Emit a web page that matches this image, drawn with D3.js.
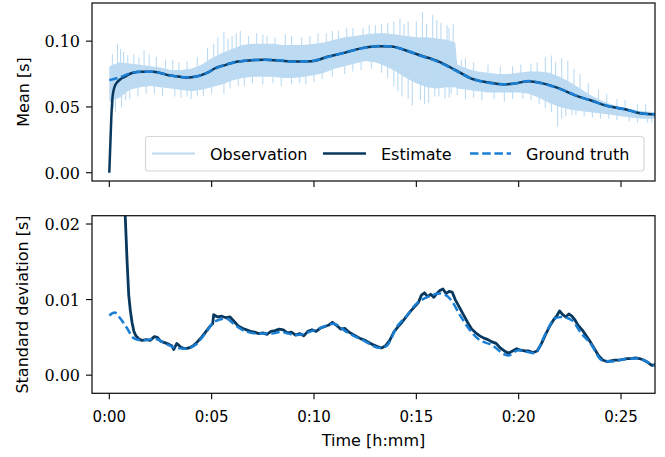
<!DOCTYPE html>
<html>
<head>
<meta charset="utf-8">
<script src="https://cdn.jsdelivr.net/npm/d3@7"></script>
<style>
  body { margin: 0; background: #fff; }
</style>
</head>
<body>
<script>
//==============================================================================
// data (time in minutes, values in seconds)

var xTicks = [0, 5, 10, 15, 20, 25];
var meanTicks = [0.00, 0.05, 0.10];
var stdTicks = [0.00, 0.01, 0.02];

var gtMean = [[0,0.0704],[0.5,0.0725],[1.11,0.0760],[1.6,0.0767],[2.09,0.0768],[2.5,0.0757],[2.9,0.0742],
  [3.3,0.0732],[3.71,0.0725],[4.1,0.0727],[4.37,0.0735],[4.8,0.0762],[5.18,0.0793],[5.7,0.0822],[6.16,0.0840],
  [6.96,0.0856],[7.6,0.0858],[8.26,0.0855],[9.08,0.0843],[9.89,0.0849],[10.7,0.0881],[11.52,0.0915],
  [12.34,0.0945],[13.15,0.0963],[13.78,0.0958],[14.6,0.0925],[15.25,0.0887],[16.07,0.0843],[16.88,0.0780],
  [17.69,0.0717],[18.51,0.0684],[19.33,0.0672],[19.83,0.0678],[20.48,0.0697],[21.13,0.0679],[21.95,0.0641],
  [22.76,0.0590],[23.58,0.0545],[24.39,0.0507],[25.2,0.0482],[26.02,0.0451],[26.67,0.0443]];

var estMean = [[0,0],[0.1,0.0426],[0.16,0.0578],[0.29,0.0666],[0.54,0.0710],[0.78,0.0730],[1.11,0.0758],
  [1.6,0.0768],[2.09,0.0767],[2.5,0.0758],[2.9,0.0741],[3.3,0.0733],[3.71,0.0724],[4.1,0.0728],[4.37,0.0736],
  [4.8,0.0760],[5.18,0.0795],[5.7,0.0820],[6.16,0.0842],[6.96,0.0855],[7.6,0.0859],[8.26,0.0853],[9.08,0.0845],
  [9.89,0.0848],[10.7,0.0883],[11.52,0.0913],[12.34,0.0947],[13.15,0.0962],[13.78,0.0960],[14.6,0.0923],
  [15.25,0.0889],[16.07,0.0846],[16.88,0.0783],[17.69,0.0715],[18.51,0.0686],[19.33,0.0671],[19.83,0.0679],
  [20.48,0.0696],[21.13,0.0681],[21.95,0.0643],[22.76,0.0588],[23.58,0.0547],[24.39,0.0505],[25.2,0.0483],
  [26.02,0.0450],[26.67,0.0444]];

// dense core of the noisy observation
var obsTime  = [0,0.5,1,1.5,2,2.5,3,3.5,4,4.5,5,5.5,6,6.5,7,7.5,8,8.5,9,9.5,10,10.5,11,11.5,12,12.5,13,13.5,
  14,14.5,15,15.5,16,16.5,16.9,17,17.5,18,18.5,19,19.5,20,20.5,21,21.5,22,22.5,23,23.5,24,24.5,25,25.5,26,26.67];
var obsUpper = [0.081,0.084,0.083,0.082,0.081,0.080,0.078,0.078,0.079,0.082,0.087,0.091,0.094,0.097,0.098,
  0.098,0.098,0.097,0.097,0.097,0.098,0.099,0.101,0.103,0.104,0.105,0.106,0.106,0.105,0.104,0.103,0.103,
  0.102,0.101,0.099,0.082,0.079,0.077,0.076,0.075,0.075,0.076,0.077,0.077,0.076,0.073,0.069,0.064,0.059,
  0.055,0.052,0.050,0.048,0.047,0.046];
var obsLower = [0.054,0.057,0.063,0.065,0.066,0.065,0.064,0.063,0.062,0.063,0.065,0.067,0.070,0.072,0.073,
  0.073,0.073,0.072,0.072,0.073,0.074,0.076,0.079,0.081,0.083,0.085,0.084,0.081,0.077,0.072,0.068,0.065,
  0.064,0.065,0.065,0.064,0.063,0.062,0.061,0.061,0.061,0.061,0.060,0.057,0.053,0.050,0.048,0.047,0.046,
  0.045,0.044,0.043,0.042,0.041,0.041];

// single excursions of the observation beyond the core
var obsSpikes = [[0.4,0.098],[0.7,0.092],[1.2,0.090],[1.7,0.093],[2.3,0.088],[3.1,0.086],[4.8,0.095],
  [5.3,0.103],[5.6,0.107],[6.0,0.104],[6.4,0.108],[7.2,0.106],[7.7,0.104],[8.6,0.105],[9.4,0.103],
  [10.2,0.106],[10.9,0.108],[11.6,0.110],[12.4,0.110],[13.0,0.112],[13.6,0.114],[14.2,0.117],[14.6,0.115],
  [15.3,0.122],[15.5,0.113],[15.8,0.120],[16.2,0.114],[16.5,0.112],[16.8,0.113],[17.4,0.087],[18.5,0.082],
  [19.7,0.081],[20.6,0.083],[21.3,0.088],[21.6,0.089],[22.1,0.087],[22.4,0.085],[23.0,0.075],[23.9,0.063],
  [24.8,0.056],[25.8,0.052],
  [0.15,0.090],[0.55,0.094],[0.9,0.089],[1.45,0.088],[1.95,0.090],[2.75,0.086],[3.4,0.084],[3.8,0.085],
  [4.3,0.088],[5.1,0.098],[5.8,0.102],[6.2,0.106],[6.8,0.104],[7.5,0.105],[8.1,0.103],[8.9,0.104],
  [9.8,0.104],[10.6,0.106],[11.2,0.108],[11.9,0.110],[12.7,0.112],[13.3,0.113],[13.9,0.115],[14.4,0.113],
  [15.0,0.115],[16.0,0.116],[16.6,0.110],[17.2,0.086],[17.8,0.084],[19.1,0.081],[20.1,0.082],[20.9,0.084],
  [21.8,0.084],[22.7,0.079],[23.4,0.068],[24.3,0.060],[25.2,0.055],[26.2,0.052],
  [0.3,0.046],[0.6,0.050],[1.0,0.056],[1.4,0.058],[2.6,0.058],[3.5,0.057],[4.0,0.056],[4.6,0.058],
  [5.6,0.060],[6.6,0.066],[7.5,0.067],[8.4,0.066],[9.6,0.067],[10.4,0.071],[11.5,0.075],[12.3,0.078],
  [13.3,0.076],[13.9,0.066],[14.3,0.058],[14.8,0.051],[15.2,0.055],[15.6,0.053],[15.9,0.058],[16.4,0.056],
  [16.7,0.060],[17.4,0.056],[18.2,0.055],[19.3,0.054],[20.2,0.056],[21.0,0.052],[21.6,0.046],[21.9,0.035],
  [22.3,0.043],[22.8,0.044],[23.6,0.042],[24.4,0.041],[25.4,0.039],[26.3,0.038],
  [0.2,0.049],[0.8,0.055],[1.8,0.060],[2.2,0.060],[3.2,0.058],[3.8,0.058],[4.3,0.058],[5.0,0.060],
  [5.9,0.064],[6.3,0.066],[7.0,0.068],[8.0,0.068],[8.9,0.067],[9.3,0.068],[10.0,0.069],[10.9,0.073],
  [11.9,0.077],[12.8,0.079],[13.6,0.072],[14.1,0.062],[14.6,0.056],[15.4,0.052],[16.1,0.058],[16.6,0.057],
  [17.0,0.059],[17.8,0.057],[18.8,0.056],[19.7,0.056],[20.6,0.055],[21.3,0.049],[22.1,0.041],[22.6,0.044],
  [23.2,0.043],[24.0,0.041],[24.8,0.040],[25.8,0.038],[26.5,0.038]];

var gtStd = [[0,0.0079],[0.26,0.0083],[0.54,0.0075],[0.87,0.0062],[1.19,0.0049],[1.6,0.0046],[2.25,0.0048],
  [2.74,0.0042],[3.15,0.0037],[3.71,0.0035],[4.2,0.0040],[4.69,0.0055],[5.1,0.0070],[5.67,0.0075],
  [6.16,0.0066],[6.65,0.0058],[7.3,0.0055],[7.95,0.0055],[8.34,0.0057],[9.16,0.0053],[9.97,0.0059],
  [10.46,0.0064],[10.95,0.0068],[11.6,0.0057],[12.41,0.0046],[13.23,0.0036],[13.56,0.0039],[14.05,0.0064],
  [14.54,0.0079],[15.02,0.0095],[15.51,0.0103],[16.16,0.0108],[16.65,0.0101],[17.14,0.0079],[17.55,0.0062],
  [18.02,0.0048],[18.67,0.0040],[19.49,0.0026],[19.98,0.0033],[20.79,0.0029],[21.28,0.0053],[21.77,0.0075],
  [22.09,0.0077],[22.58,0.0073],[23.07,0.0055],[23.56,0.0040],[24.05,0.0020],[24.54,0.0018],[25.35,0.0022],
  [25.84,0.0022],[26.25,0.0018],[26.67,0.0012]];

var estStd = [[0,0.2],[0.4,0.06],[0.6,0.035],[0.7,0.027],[0.78,0.021],[0.87,0.015],[0.95,0.0106],[1.03,0.0085],
  [1.11,0.0070],[1.2,0.0058],[1.3,0.0052],[1.45,0.0048],[1.6,0.0046],[1.8,0.0047],[2.0,0.0046],[2.2,0.0051],
  [2.35,0.0050],[2.5,0.0045],[2.7,0.0043],[2.9,0.0041],[3.05,0.0039],[3.15,0.0034],[3.3,0.0042],[3.5,0.0037],
  [3.7,0.0035],[3.9,0.0036],[4.1,0.0039],[4.3,0.0044],[4.5,0.0050],[4.7,0.0057],[4.9,0.0064],[5.05,0.0068],
  [5.1,0.0080],[5.3,0.0077],[5.5,0.0078],[5.7,0.0076],[5.9,0.0077],[6.1,0.0071],[6.3,0.0065],[6.5,0.0062],
  [6.7,0.0060],[6.9,0.0058],[7.1,0.0057],[7.3,0.0055],[7.5,0.0056],[7.7,0.0054],[7.9,0.0058],[8.1,0.0059],
  [8.3,0.0061],[8.5,0.0060],[8.7,0.0056],[8.9,0.0057],[9.1,0.0053],[9.3,0.0055],[9.5,0.0052],[9.7,0.0058],
  [9.9,0.0060],[10.1,0.0058],[10.3,0.0062],[10.5,0.0064],[10.7,0.0066],[10.9,0.0070],[11.1,0.0066],
  [11.3,0.0061],[11.5,0.0062],[11.7,0.0057],[11.9,0.0054],[12.1,0.0051],[12.3,0.0048],[12.5,0.0046],
  [12.7,0.0043],[12.9,0.0040],[13.1,0.0038],[13.3,0.0036],[13.5,0.0039],[13.7,0.0046],[13.9,0.0057],
  [14.1,0.0064],[14.3,0.0070],[14.5,0.0077],[14.7,0.0084],[14.9,0.0090],[15.1,0.0096],[15.25,0.0106],
  [15.4,0.0109],[15.55,0.0104],[15.7,0.0107],[15.85,0.0103],[16.0,0.0108],[16.15,0.0112],[16.3,0.0114],
  [16.45,0.0108],[16.6,0.0111],[16.75,0.0110],[16.9,0.0100],[17.1,0.0090],[17.3,0.0080],[17.5,0.0070],
  [17.7,0.0061],[17.9,0.0056],[18.1,0.0052],[18.3,0.0049],[18.5,0.0047],[18.7,0.0044],[18.9,0.0042],
  [19.1,0.0036],[19.3,0.0032],[19.5,0.0029],[19.7,0.0032],[19.9,0.0035],[20.1,0.0033],[20.3,0.0032],
  [20.5,0.0032],[20.7,0.0030],[20.9,0.0032],[21.1,0.0041],[21.3,0.0053],[21.5,0.0064],[21.7,0.0073],
  [21.85,0.0078],[22.0,0.0085],[22.15,0.0080],[22.3,0.0077],[22.45,0.0081],[22.6,0.0078],[22.75,0.0073],
  [22.9,0.0066],[23.1,0.0060],[23.3,0.0052],[23.5,0.0044],[23.7,0.0035],[23.9,0.0026],[24.1,0.0020],
  [24.3,0.0018],[24.5,0.0019],[24.7,0.0020],[24.9,0.0020],[25.1,0.0021],[25.3,0.0022],[25.5,0.0022],
  [25.7,0.0023],[25.9,0.0022],[26.1,0.0020],[26.3,0.0017],[26.5,0.0013],[26.67,0.0014]];

var legendLabels = ["Observation", "Estimate", "Ground truth"];

//==============================================================================

var totalWidth = 665;
var totalHeight = 457;

var colObs = "#bcdbf2";
var colEst = "#08385e";
var colGt = "#1a7fd4";
var dashGt = "8.5,3.7";

var sans = "'DejaVu Sans', sans-serif";
var serif = "'DejaVu Serif', serif";

var svg = d3.select("body").append("svg")
    .attr("width", totalWidth)
    .attr("height", totalHeight);

var x = d3.scaleLinear().domain([-0.845, 26.66]).range([92, 655]);
var yMean = d3.scaleLinear().domain([-0.0063, 0.129]).range([181, 3]);
var yStd = d3.scaleLinear().domain([-0.0024, 0.0211]).range([393.3, 215.7]);

function fmtTime(m) { return Math.floor(m / 60) + ":" + d3.format("02d")(m % 60); }

function makeAxes(y, ticks, id, showX) {
    var g = svg.append("g");
    var x0 = x.range()[0], x1 = x.range()[1];
    var yb = y.range()[0], yt = y.range()[1];

    svg.append("clipPath").attr("id", id)
        .append("rect").attr("x", x0).attr("y", yt).attr("width", x1 - x0).attr("height", yb - yt);

    var plot = g.append("g").attr("clip-path", "url(#" + id + ")");

    // ticks
    g.selectAll(".yt").data(ticks).enter().append("line")
        .attr("x1", x0 - 6).attr("x2", x0)
        .attr("y1", function(d) { return y(d); }).attr("y2", function(d) { return y(d); })
        .attr("stroke", "#000").attr("stroke-width", 1.1);
    g.selectAll(".yl").data(ticks).enter().append("text")
        .attr("x", x0 - 12).attr("y", function(d) { return y(d) + 6; })
        .attr("text-anchor", "end")
        .style("font-family", serif).style("font-size", "16px")
        .text(function(d) { return d3.format(".2f")(d); });
    g.selectAll(".xt").data(xTicks).enter().append("line")
        .attr("x1", function(d) { return x(d); }).attr("x2", function(d) { return x(d); })
        .attr("y1", yb).attr("y2", yb + 6)
        .attr("stroke", "#000").attr("stroke-width", 1.1);
    if (showX) {
        g.selectAll(".xl").data(xTicks).enter().append("text")
            .attr("x", function(d) { return x(d); }).attr("y", yb + 29)
            .attr("text-anchor", "middle")
            .style("font-family", sans).style("font-size", "15px")
            .text(fmtTime);
    }
    return { g: g, plot: plot };
}

function frame(g, y) {
    g.append("rect")
        .attr("x", x.range()[0]).attr("y", y.range()[1])
        .attr("width", x.range()[1] - x.range()[0]).attr("height", y.range()[0] - y.range()[1])
        .attr("fill", "none").attr("stroke", "#111").attr("stroke-width", 1.25);
}

//==============================================================================
// top: mean

var axMean = makeAxes(yMean, meanTicks, "clipMean", false);

var obsRows = obsTime.map(function(t, i) { return [t, obsLower[i], obsUpper[i]]; });
var gtMeanAt = function(t) {
    var i = d3.bisector(function(d) { return d[0]; }).left(gtMean, t);
    if (i <= 0) return gtMean[0][1];
    if (i >= gtMean.length) return gtMean[gtMean.length - 1][1];
    var a = gtMean[i - 1], b = gtMean[i];
    return a[1] + (b[1] - a[1]) * (t - a[0]) / (b[0] - a[0]);
};

axMean.plot.append("path").datum(obsRows)
    .attr("fill", colObs)
    .attr("d", d3.area()
        .x(function(d) { return x(d[0]); })
        .y0(function(d) { return yMean(d[1]); })
        .y1(function(d) { return yMean(d[2]); }));

axMean.plot.selectAll(".spike").data(obsSpikes).enter().append("line")
    .attr("x1", function(d) { return x(d[0]); }).attr("x2", function(d) { return x(d[0]); })
    .attr("y1", function(d) { return yMean(gtMeanAt(d[0])); })
    .attr("y2", function(d) { return yMean(d[1]); })
    .attr("stroke", colObs).attr("stroke-width", 1.1);

var lineMean = d3.line()
    .x(function(d) { return x(d[0]); })
    .y(function(d) { return yMean(d[1]); })
    .curve(d3.curveMonotoneX);

axMean.plot.append("path").datum(estMean)
    .attr("fill", "none").attr("stroke", colEst).attr("stroke-width", 2.5)
    .attr("d", lineMean);
axMean.plot.append("path").datum(gtMean)
    .attr("fill", "none").attr("stroke", colGt).attr("stroke-width", 2.5)
    .attr("stroke-dasharray", dashGt)
    .attr("d", lineMean);

frame(axMean.g, yMean);

// legend
var leg = axMean.g.append("g");
leg.append("rect")
    .attr("x", 145.5).attr("y", 136.5).attr("width", 498.5).attr("height", 34.5)
    .attr("rx", 3).attr("fill", "#fff").attr("fill-opacity", 0.85)
    .attr("stroke", "#d6d6d6").attr("stroke-width", 1.1);
var legItems = [
    { label: legendLabels[0], x0: 152, x1: 195, tx: 210, color: colObs, w: 2.2, dash: null },
    { label: legendLabels[1], x0: 323, x1: 366, tx: 381, color: colEst, w: 2.5, dash: null },
    { label: legendLabels[2], x0: 470, x1: 511, tx: 526, color: colGt, w: 2.5, dash: dashGt }
];
legItems.forEach(function(it) {
    leg.append("line")
        .attr("x1", it.x0).attr("x2", it.x1).attr("y1", 153.5).attr("y2", 153.5)
        .attr("stroke", it.color).attr("stroke-width", it.w)
        .attr("stroke-dasharray", it.dash);
    leg.append("text")
        .attr("x", it.tx).attr("y", 159.5)
        .style("font-family", sans).style("font-size", "16px")
        .text(it.label);
});

svg.append("text")
    .attr("transform", "translate(29," + ((yMean.range()[0] + yMean.range()[1]) / 2) + ") rotate(-90)")
    .attr("text-anchor", "middle")
    .style("font-family", sans).style("font-size", "16px")
    .text("Mean [s]");

//==============================================================================
// bottom: standard deviation

var axStd = makeAxes(yStd, stdTicks, "clipStd", true);

var lineStd = d3.line()
    .x(function(d) { return x(d[0]); })
    .y(function(d) { return yStd(d[1]); });

axStd.plot.append("path").datum(estStd)
    .attr("fill", "none").attr("stroke", colEst).attr("stroke-width", 2.8)
    .attr("stroke-linejoin", "round")
    .attr("d", lineStd);
axStd.plot.append("path").datum(gtStd)
    .attr("fill", "none").attr("stroke", colGt).attr("stroke-width", 2.5)
    .attr("stroke-dasharray", dashGt)
    .attr("d", lineStd.curve(d3.curveMonotoneX));

frame(axStd.g, yStd);

svg.append("text")
    .attr("transform", "translate(28," + ((yStd.range()[0] + yStd.range()[1]) / 2) + ") rotate(-90)")
    .attr("text-anchor", "middle")
    .style("font-family", sans).style("font-size", "16px")
    .text("Standard deviation [s]");

svg.append("text")
    .attr("x", (x.range()[0] + x.range()[1]) / 2).attr("y", 446)
    .attr("text-anchor", "middle")
    .style("font-family", sans).style("font-size", "16px")
    .text("Time [h:mm]");
</script>
</body>
</html>
